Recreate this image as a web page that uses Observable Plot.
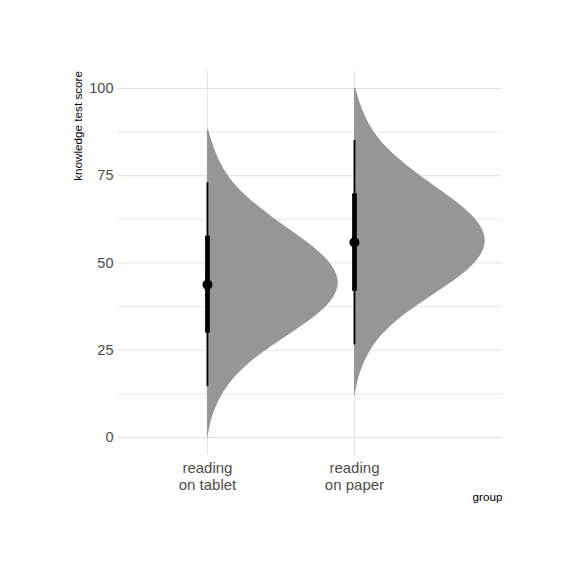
<!DOCTYPE html>
<html>
<head>
<meta charset="utf-8">
<script src="https://cdn.jsdelivr.net/npm/d3@7"></script>
<script src="https://cdn.jsdelivr.net/npm/@observablehq/plot@0.6"></script>
<style>
  html, body { margin: 0; padding: 0; background: #fff; }
  #chart svg { display: block; }
</style>
</head>
<body>
<div id="chart"></div>
<script>
// categories (x axis)
let groups = ["reading\non tablet", "reading\non paper"];

// slab outlines: score -> width as share of the widest point
let tablet_score = [0, 4, 8, 12, 16, 20, 24, 28, 32, 36, 40, 44, 48, 52, 56, 60, 64, 68, 72, 76, 80, 84, 88];
let tablet_dens = [0.004, 0.022, 0.055, 0.105, 0.175, 0.275, 0.405, 0.56, 0.72, 0.865, 0.96, 1.0,
    0.97, 0.885, 0.755, 0.605, 0.46, 0.325, 0.215, 0.135, 0.08, 0.04, 0.01];

let paper_score = [12, 16, 20, 24, 28, 32, 36, 40, 44, 48, 52, 56, 60, 64, 68, 72, 76, 80, 84, 88, 92, 96, 100];
let paper_dens = [0.004, 0.023, 0.056, 0.105, 0.172, 0.275, 0.405, 0.56, 0.72, 0.865, 0.96, 1.0,
    0.97, 0.887, 0.757, 0.607, 0.46, 0.327, 0.217, 0.136, 0.08, 0.04, 0.01];

// point intervals: median, 66% and 95%
let medians = [43.8, 55.9];
let thick_low = [29.9, 41.9];
let thick_high = [57.7, 69.8];
let thin_low = [14.6, 26.5];
let thin_high = [73.0, 85.1];

let y_ticks = [0, 25, 50, 75, 100];
let y_minor = [12.5, 37.5, 62.5, 87.5];

let slab = [
    ...tablet_score.map((s, i) => ({group: 1, score: s, dens: tablet_dens[i]})),
    ...paper_score.map((s, i) => ({group: 2, score: s, dens: paper_dens[i]}))
];

let intervals = groups.map((g, i) => ({
    group: i + 1, median: medians[i],
    thick_low: thick_low[i], thick_high: thick_high[i],
    thin_low: thin_low[i], thin_high: thin_high[i]
}));

let grid = "#e1e1e1";
let font = "'Liberation Sans', Arial, Helvetica, sans-serif";

let plot = Plot.plot({
    width: 576,
    height: 576,
    marginLeft: 118,
    marginRight: 74,
    marginTop: 70.5,
    marginBottom: 121.5,
    style: {fontFamily: font, background: "#fff"},
    x: {type: "linear", domain: [0.395, 3.007], axis: null},
    y: {domain: [-5, 105], axis: null},
    marks: [
        // grid
        Plot.ruleY(y_minor, {stroke: grid, strokeWidth: 0.8}),
        Plot.ruleY(y_ticks, {stroke: grid, strokeWidth: 1}),
        Plot.ruleX([1, 2], {stroke: grid, strokeWidth: 1}),

        // slabs
        Plot.areaX(slab, {
            y: "score",
            x1: "group",
            x2: d => d.group + 0.9 * d.dens,
            z: "group",
            fill: "#969696",
            curve: "basis"
        }),

        // intervals
        Plot.ruleX(intervals, {x: "group", y1: "thin_low", y2: "thin_high", stroke: "#000", strokeWidth: 1.8}),
        Plot.ruleX(intervals, {x: "group", y1: "thick_low", y2: "thick_high", stroke: "#000", strokeWidth: 4.7}),
        Plot.dot(intervals, {x: "group", y: "median", r: 5, fill: "#000", stroke: "none"}),

        // axes
        Plot.axisY(y_ticks, {tickSize: 0, tickPadding: 5, fontSize: 14.5, fill: "#4d4d4d", label: null}),
        Plot.axisX([1, 2], {
            tickSize: 0, tickPadding: 5, fontSize: 15, fill: "#4d4d4d", label: null,
            lineHeight: 1.18, tickFormat: d => groups[d - 1]
        }),

        // axis titles
        Plot.text(["knowledge test score"], {
            frameAnchor: "top-left", dx: -45, rotate: -90,
            textAnchor: "end", fontSize: 11.7, fill: "#000"
        }),
        Plot.text(["group"], {
            frameAnchor: "bottom-right", dy: 45.5,
            textAnchor: "end", fontSize: 11.7, fill: "#000"
        })
    ]
});

document.querySelector("#chart").append(plot);
</script>
</body>
</html>
